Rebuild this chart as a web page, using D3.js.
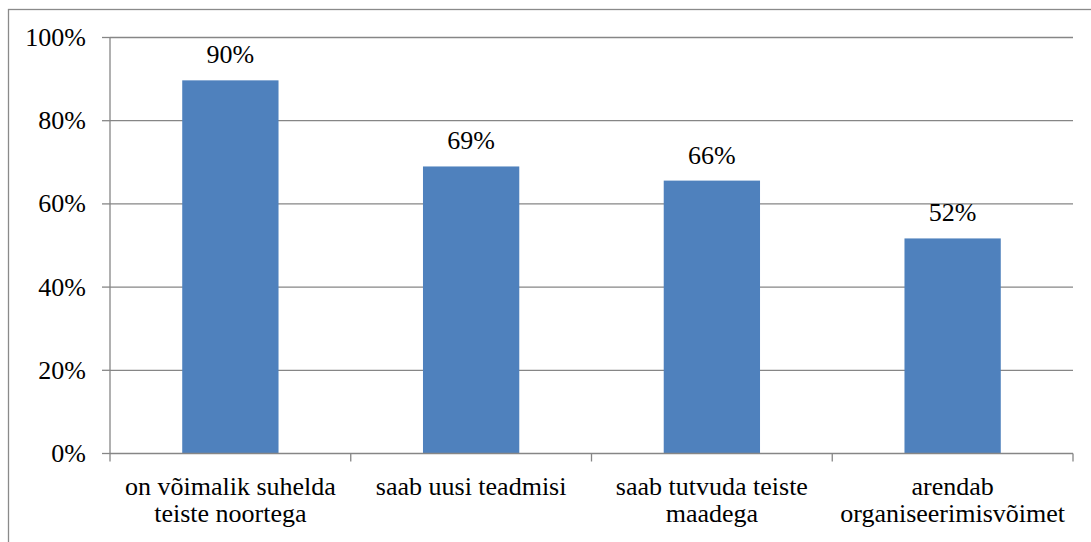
<!DOCTYPE html>
<html>
<head>
<meta charset="utf-8">
<script src="https://d3js.org/d3.v7.min.js"></script>
</head>
<body style="margin:0;background:#fff">
<svg id="chart" width="1091" height="542" font-family="Liberation Serif" font-size="26"></svg>
<script>
// data
var categories = [
    ["on võimalik suhelda", "teiste noortega"],
    ["saab uusi teadmisi"],
    ["saab tutvuda teiste", "maadega"],
    ["arendab", "organiseerimisvõimet"]
];
var values = [0.897, 0.69, 0.656, 0.517];
var yTicks = [0, 0.2, 0.4, 0.6, 0.8, 1.0];

var W = 1091, H = 542;
var margin = { top: 37.5, right: 18, bottom: 88.5, left: 110 },
    width = W - margin.left - margin.right,
    height = H - margin.top - margin.bottom;

var svg = d3.select("#chart");

// outer chart frame (runs off the right and bottom edge)
svg.append("rect")
    .attr("x", 8.5).attr("y", 9.5)
    .attr("width", W + 10).attr("height", H + 10)
    .attr("fill", "none")
    .attr("stroke", "#8a8a8a")
    .attr("stroke-width", 1.3);

var g = svg.append("g")
    .attr("transform", "translate(" + margin.left + "," + margin.top + ")");

var idx = d3.range(categories.length);
var x = d3.scaleBand().domain(idx).range([0, width]).paddingInner(0.6).paddingOuter(0.3);
var xc = d3.scaleBand().domain(idx).range([0, width]); // whole category slots, for ticks + labels
var y = d3.scaleLinear().domain([0, 1]).range([height, 0]);

// gridlines
g.selectAll(".grid")
    .data(yTicks.filter(function (d) { return d > 0; }))
    .enter().append("line")
    .attr("x1", 0).attr("x2", width)
    .attr("y1", function (d) { return y(d); })
    .attr("y2", function (d) { return y(d); })
    .attr("stroke", "#868686")
    .attr("stroke-width", 1.3);

// bars
g.selectAll(".bar")
    .data(values)
    .enter().append("rect")
    .attr("class", "bar")
    .attr("x", function (d, i) { return x(i); })
    .attr("width", x.bandwidth())
    .attr("y", function (d) { return y(d); })
    .attr("height", function (d) { return height - y(d); })
    .attr("fill", "#4f81bd");

// value labels
g.selectAll(".lbl")
    .data(values)
    .enter().append("text")
    .attr("x", function (d, i) { return x(i) + x.bandwidth() / 2; })
    .attr("y", function (d) { return y(d) - 17; })
    .attr("text-anchor", "middle")
    .attr("fill", "#000")
    .text(function (d) { return d3.format(".0%")(d); });

// y axis (drawn by hand so d3's sans-serif default never kicks in)
var yAxis = g.append("g");
yAxis.append("line")
    .attr("x1", 0).attr("x2", 0)
    .attr("y1", 0).attr("y2", height)
    .attr("stroke", "#868686").attr("stroke-width", 1.3);
var yt = yAxis.selectAll(".yt")
    .data(yTicks)
    .enter().append("g")
    .attr("transform", function (d) { return "translate(0," + y(d) + ")"; });
yt.append("line")
    .attr("x1", -8).attr("x2", 0)
    .attr("stroke", "#868686").attr("stroke-width", 1.3);
yt.append("text")
    .attr("x", -24)
    .attr("dy", "0.33em")
    .attr("text-anchor", "end")
    .attr("fill", "#000")
    .text(function (d) { return d3.format(".0%")(d); });

// x axis: baseline + tick marks between categories
var xAxis = g.append("g").attr("transform", "translate(0," + height + ")");
xAxis.append("line")
    .attr("x1", 0).attr("x2", width)
    .attr("stroke", "#868686").attr("stroke-width", 1.3);
xAxis.selectAll(".xt")
    .data(d3.range(categories.length + 1))
    .enter().append("line")
    .attr("x1", function (d) { return d * xc.step(); })
    .attr("x2", function (d) { return d * xc.step(); })
    .attr("y1", 0).attr("y2", 8)
    .attr("stroke", "#868686").attr("stroke-width", 1.3);

// category labels
var cl = xAxis.selectAll(".cat")
    .data(categories)
    .enter().append("text")
    .attr("text-anchor", "middle")
    .attr("fill", "#000")
    .attr("transform", function (d, i) {
        return "translate(" + (xc(i) + xc.bandwidth() / 2) + ",41.5)";
    });
cl.selectAll("tspan")
    .data(function (d) { return d; })
    .enter().append("tspan")
    .attr("x", 0)
    .attr("dy", function (d, i) { return i === 0 ? 0 : 27; })
    .text(function (d) { return d; });
</script>
</body>
</html>
